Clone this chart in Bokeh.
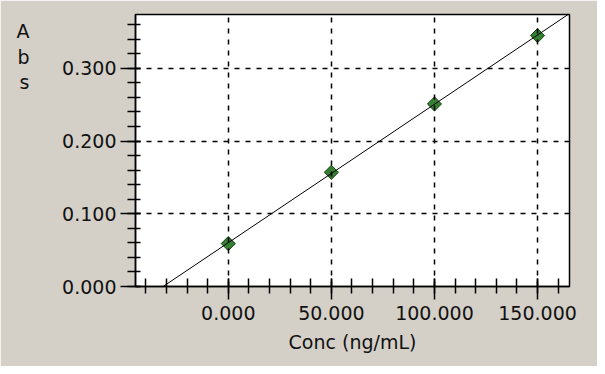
import numpy as np
from bokeh.plotting import figure
from bokeh.models import (Range1d, SingleIntervalTicker, PrintfTickFormatter,
                          Slope, ColumnDataSource, LinearAxis, FixedTicker)
from bokeh.embed import file_html
from bokeh.resources import INLINE

# data
conc = [0, 50, 100, 150]
absorbance = [0.059, 0.157, 0.251, 0.345]
x_title = "Conc (ng/mL)"
y_title_letters = ["A", "b", "s"]

FONT = "DejaVu Sans"
FS = "19px"
BG = "#d4d0c8"

FH = 272  # frame height in px

p = figure(width=597, height=366, output_backend="svg", toolbar_location=None,
           x_range=Range1d(-45, 165.5), y_range=Range1d(0, 0.374),
           min_border_left=135, min_border_right=28, min_border_top=14,
           min_border_bottom=80)
p.border_fill_color = BG
p.background_fill_color = "white"
p.outline_line_color = "black"
p.outline_line_width = 1.5

src = ColumnDataSource(dict(x=conc, y=absorbance))
p.scatter("x", "y", source=src, marker="square", size=10, angle=np.pi / 4,
          fill_color="#357f30", line_color="#1c3d1a", line_width=1)

# calibration fit line
k, b = np.polyfit(conc, absorbance, 1)
p.add_layout(Slope(gradient=k, y_intercept=b, line_color="black", line_width=1))

for ax in (p.xaxis[0], p.yaxis[0]):
    ax.axis_line_color = "black"
    ax.axis_line_width = 1.5
    ax.major_tick_line_color = "black"
    ax.minor_tick_line_color = "black"
    ax.major_tick_line_width = 1.5
    ax.minor_tick_line_width = 1.5
    ax.major_label_text_font = FONT
    ax.major_label_text_font_size = FS
    ax.major_label_text_color = "#111111"
    ax.formatter = PrintfTickFormatter(format="%.3f")

p.xaxis[0].ticker = SingleIntervalTicker(interval=50, num_minor_ticks=5)
p.yaxis[0].ticker = SingleIntervalTicker(interval=0.1, num_minor_ticks=5)

p.xaxis.major_tick_in = 8
p.xaxis.major_tick_out = 13
p.xaxis.minor_tick_in = 8
p.xaxis.minor_tick_out = 7
p.xaxis.major_label_standoff = 6
p.xaxis.axis_label = x_title
p.xaxis.axis_label_text_font = FONT
p.xaxis.axis_label_text_font_size = FS
p.xaxis.axis_label_text_font_style = "normal"
p.xaxis.axis_label_text_color = "#111111"
p.xaxis.axis_label_standoff = 8

p.yaxis.major_tick_in = 5
p.yaxis.major_tick_out = 15
p.yaxis.minor_tick_in = 5
p.yaxis.minor_tick_out = 8
p.yaxis.major_label_standoff = 4

for g in (p.xgrid[0], p.ygrid[0]):
    g.grid_line_color = "black"
    g.grid_line_width = 1.5
    g.grid_line_dash = "5 6"
    g.level = "annotation"
p.xgrid[0].ticker = p.xaxis[0].ticker
p.ygrid[0].ticker = p.yaxis[0].ticker

# vertical "Abs" title at top-left: an outer, line-less axis in pixel units
p.extra_y_ranges = {"ttl": Range1d(0, FH)}
pos = [FH - 16, FH - 42, FH - 67]
ttl = LinearAxis(y_range_name="ttl", ticker=FixedTicker(ticks=pos),
                 major_label_overrides={t: ch for t, ch in zip(pos, y_title_letters)},
                 axis_line_color=None, major_tick_line_color=None,
                 minor_tick_line_color=None, major_tick_out=0, major_tick_in=0,
                 major_label_standoff=30, major_label_text_font=FONT,
                 major_label_text_font_size=FS, major_label_text_color="#111111")
p.add_layout(ttl, "left")

open("out.html", "w").write(file_html(p, INLINE))
